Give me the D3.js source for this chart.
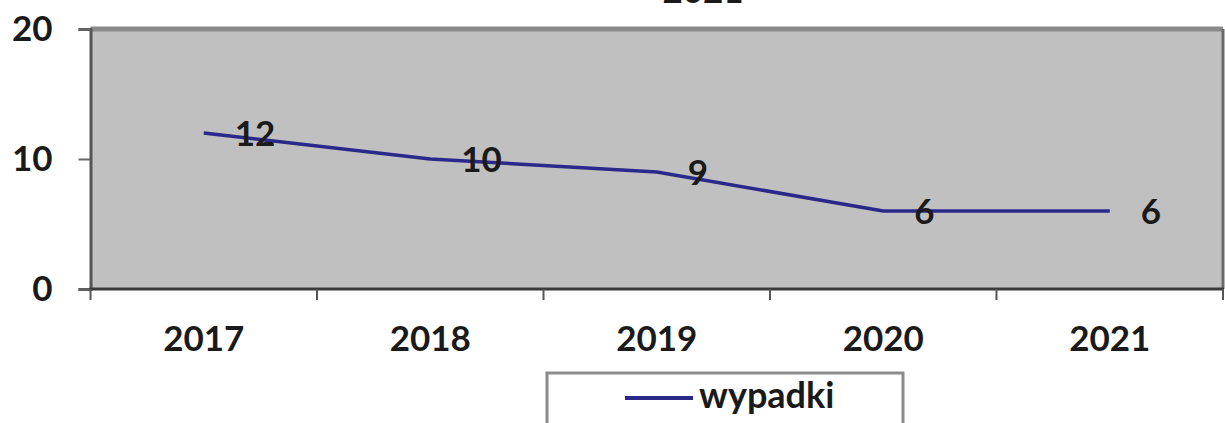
<!DOCTYPE html>
<html><head><meta charset="utf-8">
<script src="https://cdn.jsdelivr.net/npm/d3@7"></script>
<style>
html,body{margin:0;padding:0;background:#fff;}
svg{display:block;}
text{font-family:Lato,"Open Sans",sans-serif;font-weight:700;fill:#1a1a1a;}
</style></head>
<body>
<svg id="c" width="1225" height="423"></svg>
<script>
const title = "2021";
const categories = ["2017","2018","2019","2020","2021"];
const values = [12,10,9,6,6];
const yTicks = [0,10,20];
const seriesName = "wypadki";

const svg = d3.select("#c");
const x = d3.scaleBand().domain(categories).range([90.5,1223]).padding(0);
const y = d3.scaleLinear().domain([0,20]).range([289,29]);

// title (cut at top)
svg.append("text").attr("x",703).attr("y",3).attr("text-anchor","middle")
  .style("font-size","35px").text(title);

// plot area
svg.append("rect").attr("x",x.range()[0]).attr("y",y(20))
  .attr("width",x.range()[1]-x.range()[0]).attr("height",y(0)-y(20))
  .attr("fill","#c0c0c0");
// borders
svg.append("line").attr("x1",x.range()[0]).attr("x2",x.range()[1]).attr("y1",y(20)).attr("y2",y(20))
  .attr("stroke","#8a8a8a").attr("stroke-width",5);
svg.append("line").attr("x1",x.range()[1]).attr("x2",x.range()[1]).attr("y1",y(20)).attr("y2",y(0))
  .attr("stroke","#6a6a6a").attr("stroke-width",3);

// y axis
const yAxis = d3.axisLeft(y).tickValues(yTicks).tickSize(12).tickPadding(26).tickFormat(d3.format("d"));
const gy = svg.append("g").attr("transform",`translate(${x.range()[0]},0)`).call(yAxis);
gy.select(".domain").attr("stroke","#555").attr("stroke-width",3);
gy.selectAll(".tick line").attr("stroke","#666").attr("stroke-width",2);
gy.selectAll(".tick text").style("font-size","35px").style("font-family","Lato").style("font-weight","700").attr("fill","#1a1a1a");

// x axis baseline
svg.append("line").attr("x1",x.range()[0]-1).attr("x2",x.range()[1]+1).attr("y1",y(0)).attr("y2",y(0))
  .attr("stroke","#3a3a3a").attr("stroke-width",3);
// category boundary ticks
const bounds = categories.map(c=>x(c)).concat([x.range()[1]]);
svg.selectAll("line.xt").data(bounds).enter().append("line").attr("class","xt")
  .attr("x1",d=>d).attr("x2",d=>d).attr("y1",y(0)).attr("y2",y(0)+11)
  .attr("stroke","#555").attr("stroke-width",2);
// x labels
svg.selectAll("text.xl").data(categories).enter().append("text").attr("class","xl")
  .attr("x",d=>x(d)+x.bandwidth()/2).attr("y",351).attr("text-anchor","middle")
  .style("font-size","35px").text(d=>d);

// line
const line = d3.line().x((d,i)=>x(categories[i])+x.bandwidth()/2).y(d=>y(d));
svg.append("path").datum(values).attr("d",line).attr("fill","none")
  .attr("stroke","#2a2888").attr("stroke-width",3.5).attr("stroke-linejoin","round");

// data labels
svg.selectAll("text.dl").data(values).enter().append("text").attr("class","dl")
  .attr("x",(d,i)=>x(categories[i])+x.bandwidth()/2+31).attr("y",d=>y(d))
  .attr("dy","0.36em").style("font-size","35px").text(d=>d);

// legend
svg.append("rect").attr("x",547).attr("y",373).attr("width",356).attr("height",70)
  .attr("fill","#fff").attr("stroke","#8c8c8c").attr("stroke-width",3);
svg.append("line").attr("x1",625).attr("x2",693).attr("y1",398).attr("y2",398)
  .attr("stroke","#2a2888").attr("stroke-width",4);
svg.append("text").attr("x",699).attr("y",408).style("font-size","36px").text(seriesName);
</script>
</body></html>
